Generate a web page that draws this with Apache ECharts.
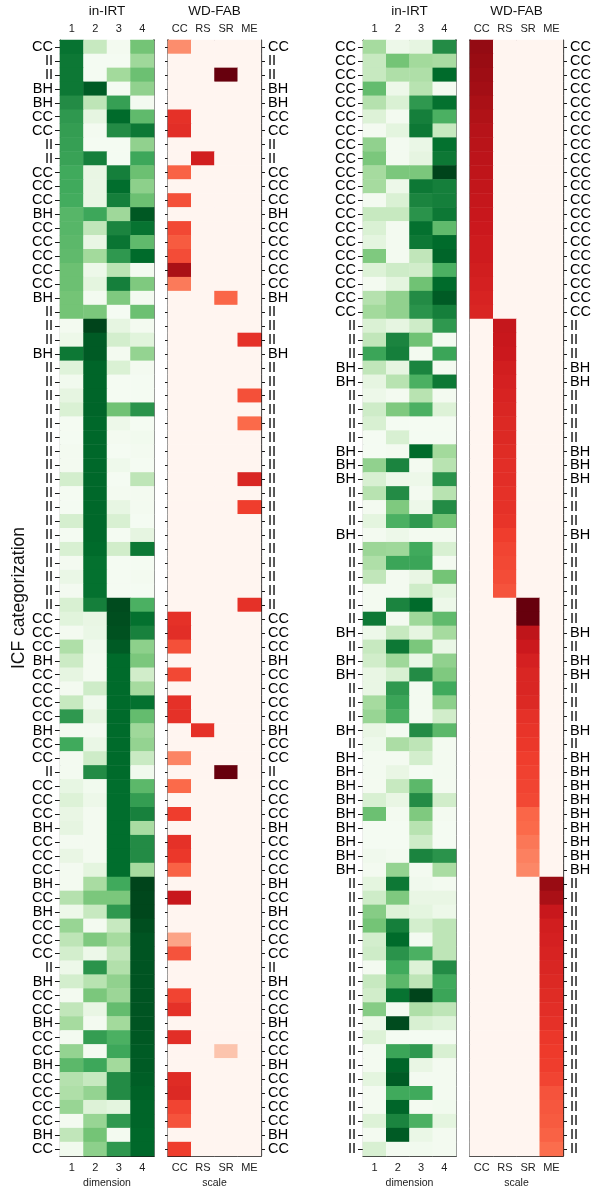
<!DOCTYPE html>
<html>
<head>
<meta charset="utf-8">
<script src="https://cdn.jsdelivr.net/npm/echarts@6/dist/echarts.min.js"></script>
<style>
html,body{margin:0;padding:0;background:#fff;}
#chart{width:597px;height:1188px;}
</style>
</head>
<body>
<div id="chart"></div>
<script>
// ---- categories / tick labels ----
const dims = ['1', '2', '3', '4'];
const scales = ['CC', 'RS', 'SR', 'ME'];

const leftLabels = ['CC','II','II','BH','BH','CC','CC','II','II','CC',
  'CC','CC','BH','CC','CC','CC','CC','CC','BH','II',
  'II','II','BH','II','II','II','II','II','II','II',
  'II','II','II','II','II','II','II','II','II','II',
  'II','CC','CC','CC','BH','CC','CC','CC','CC','BH',
  'CC','CC','II','CC','CC','CC','BH','CC','CC','CC',
  'BH','CC','BH','CC','CC','CC','II','BH','CC','CC',
  'BH','CC','CC','BH','CC','CC','CC','CC','BH','CC'];

const rightLabels = ['CC','CC','CC','CC','CC','CC','CC','CC','CC','CC',
  'CC','CC','CC','CC','CC','CC','CC','CC','CC','CC',
  'II','II','II','BH','BH','II','II','II','II','BH',
  'BH','BH','II','II','II','BH','II','II','II','II',
  'II','II','BH','II','BH','BH','II','II','II','BH',
  'II','BH','BH','BH','BH','BH','BH','BH','BH','BH',
  'II','II','II','II','II','II','II','II','II','II',
  'II','II','II','II','II','II','II','II','II','II'];

// ---- values: rows = respondents, columns = dimension 1..4 ----
const leftIRT = [
[0.85,0.25,0.03,0.50],[0.83,0.02,0.02,0.38],[0.83,0.02,0.37,0.52],[0.83,0.93,0.02,0.42],[0.75,0.28,0.67,0.03],
[0.70,0.12,0.88,0.55],[0.68,0.03,0.75,0.83],[0.67,0.02,0.02,0.42],[0.66,0.80,0.02,0.64],[0.63,0.10,0.80,0.52],
[0.63,0.10,0.87,0.43],[0.62,0.10,0.80,0.52],[0.57,0.64,0.38,0.94],[0.57,0.27,0.78,0.85],[0.56,0.10,0.84,0.55],
[0.55,0.37,0.70,0.88],[0.52,0.07,0.29,0.03],[0.52,0.13,0.80,0.47],[0.50,0.03,0.47,0.03],[0.50,0.48,0.02,0.52],
[0.03,1.00,0.12,0.03],[0.07,0.93,0.20,0.14],[0.83,0.93,0.03,0.41],[0.15,0.90,0.17,0.03],[0.04,0.90,0.02,0.02],
[0.12,0.90,0.02,0.02],[0.17,0.90,0.51,0.72],[0.02,0.89,0.07,0.02],[0.02,0.89,0.03,0.04],[0.03,0.89,0.02,0.03],
[0.03,0.89,0.06,0.02],[0.20,0.89,0.02,0.28],[0.02,0.89,0.03,0.03],[0.02,0.89,0.11,0.03],[0.19,0.89,0.18,0.02],
[0.02,0.89,0.02,0.12],[0.18,0.88,0.21,0.83],[0.03,0.86,0.02,0.02],[0.09,0.86,0.02,0.03],[0.03,0.86,0.02,0.02],
[0.18,0.80,0.98,0.60],[0.14,0.10,0.97,0.86],[0.03,0.09,0.96,0.79],[0.33,0.05,0.93,0.43],[0.23,0.03,0.88,0.48],
[0.12,0.03,0.88,0.21],[0.03,0.22,0.88,0.36],[0.25,0.05,0.88,0.86],[0.70,0.12,0.88,0.54],[0.03,0.03,0.88,0.38],
[0.63,0.09,0.88,0.41],[0.03,0.22,0.88,0.24],[0.03,0.75,0.88,0.05],[0.11,0.04,0.87,0.56],[0.16,0.07,0.87,0.68],
[0.10,0.03,0.87,0.79],[0.12,0.03,0.87,0.35],[0.03,0.03,0.87,0.75],[0.10,0.03,0.87,0.75],[0.03,0.13,0.87,0.36],
[0.03,0.35,0.63,1.00],[0.31,0.48,0.48,0.99],[0.07,0.25,0.70,0.99],[0.40,0.03,0.25,0.97],[0.28,0.47,0.36,0.95],
[0.20,0.07,0.27,0.95],[0.07,0.72,0.32,0.95],[0.20,0.30,0.42,0.95],[0.03,0.48,0.39,0.95],[0.27,0.10,0.54,0.95],
[0.36,0.03,0.37,0.95],[0.03,0.68,0.60,0.94],[0.41,0.03,0.64,0.93],[0.56,0.64,0.37,0.93],[0.31,0.25,0.75,0.92],
[0.33,0.41,0.75,0.91],[0.40,0.16,0.13,0.90],[0.03,0.40,0.70,0.90],[0.27,0.50,0.03,0.89],[0.04,0.43,0.70,0.89]
];

// columns = CC, RS, SR, ME
const leftFAB = [
[0.39,0,0,0],[0,0,0,0],[0,0,1.00,0],[0,0,0,0],[0,0,0,0],
[0.66,0,0,0],[0.67,0,0,0],[0,0,0,0],[0,0.73,0,0],[0.52,0,0,0],
[0,0,0,0],[0.57,0,0,0],[0,0,0,0],[0.59,0,0,0],[0.54,0,0,0],
[0.58,0,0,0],[0.86,0,0,0],[0.45,0,0,0],[0,0,0.51,0],[0,0,0,0],
[0,0,0,0],[0,0,0,0.66],[0,0,0,0],[0,0,0,0],[0,0,0,0],
[0,0,0,0.57],[0,0,0,0],[0,0,0,0.50],[0,0,0,0],[0,0,0,0],
[0,0,0,0],[0,0,0,0.70],[0,0,0,0],[0,0,0,0.62],[0,0,0,0],
[0,0,0,0],[0,0,0,0],[0,0,0,0],[0,0,0,0],[0,0,0,0],
[0,0,0,0.66],[0.66,0,0,0],[0.67,0,0,0],[0.57,0,0,0],[0,0,0,0],
[0.59,0,0,0],[0,0,0,0],[0.66,0,0,0],[0.66,0,0,0],[0,0.66,0,0],
[0,0,0,0],[0.42,0,0,0],[0,0,1.00,0],[0.50,0,0,0],[0,0,0,0],
[0.62,0,0,0],[0,0,0,0],[0.66,0,0,0],[0.64,0,0,0],[0.52,0,0,0],
[0,0,0,0],[0.76,0,0,0],[0,0,0,0],[0,0,0,0],[0.32,0,0,0],
[0.56,0,0,0],[0,0,0,0],[0,0,0,0],[0.60,0,0,0],[0.66,0,0,0],
[0,0,0,0],[0.67,0,0,0],[0,0,0.22,0],[0,0,0,0],[0.68,0,0,0],
[0.69,0,0,0],[0.60,0,0,0],[0.56,0,0,0],[0,0,0,0],[0.62,0,0,0]
];

const rightIRT = [
[0.36,0.07,0.12,0.75],[0.25,0.50,0.37,0.35],[0.25,0.33,0.33,0.88],[0.54,0.07,0.30,0.03],[0.31,0.17,0.70,0.86],
[0.16,0.03,0.80,0.60],[0.03,0.13,0.83,0.25],[0.42,0.03,0.09,0.86],[0.48,0.03,0.12,0.83],[0.36,0.48,0.48,1.00],
[0.36,0.07,0.83,0.80],[0.03,0.17,0.78,0.80],[0.25,0.25,0.72,0.83],[0.17,0.03,0.86,0.55],[0.13,0.03,0.83,0.88],
[0.47,0.03,0.27,0.90],[0.16,0.22,0.21,0.60],[0.03,0.13,0.51,0.88],[0.31,0.42,0.75,0.93],[0.37,0.42,0.72,0.80],
[0.17,0.12,0.22,0.70],[0.27,0.78,0.51,0.03],[0.65,0.80,0.03,0.65],[0.27,0.12,0.78,0.03],[0.12,0.30,0.60,0.83],
[0.07,0.03,0.30,0.03],[0.22,0.47,0.60,0.16],[0.18,0.02,0.02,0.02],[0.02,0.18,0.02,0.02],[0.02,0.03,0.88,0.37],
[0.42,0.78,0.03,0.30],[0.18,0.07,0.07,0.72],[0.30,0.75,0.03,0.30],[0.03,0.47,0.07,0.75],[0.13,0.60,0.70,0.50],
[0.03,0.07,0.03,0.03],[0.39,0.38,0.63,0.18],[0.33,0.65,0.65,0.03],[0.27,0.03,0.10,0.50],[0.03,0.03,0.22,0.13],
[0.03,0.78,0.88,0.07],[0.83,0.03,0.38,0.55],[0.07,0.25,0.12,0.36],[0.25,0.83,0.48,0.09],[0.21,0.38,0.09,0.42],
[0.10,0.18,0.75,0.47],[0.10,0.70,0.03,0.63],[0.36,0.65,0.03,0.43],[0.40,0.60,0.03,0.21],[0.10,0.03,0.75,0.56],
[0.06,0.34,0.28,0.03],[0.03,0.03,0.20,0.03],[0.03,0.10,0.02,0.03],[0.03,0.25,0.56,0.03],[0.18,0.10,0.75,0.21],
[0.52,0.03,0.47,0.03],[0.02,0.02,0.30,0.02],[0.02,0.02,0.22,0.02],[0.05,0.03,0.78,0.72],[0.03,0.41,0.03,0.35],
[0.13,0.83,0.05,0.03],[0.22,0.47,0.10,0.10],[0.45,0.16,0.13,0.07],[0.50,0.80,0.20,0.28],[0.20,0.88,0.03,0.28],
[0.22,0.72,0.60,0.28],[0.03,0.63,0.16,0.75],[0.25,0.56,0.28,0.63],[0.21,0.85,1.00,0.65],[0.45,0.03,0.33,0.28],
[0.07,0.98,0.18,0.15],[0.16,0.02,0.02,0.02],[0.03,0.65,0.70,0.18],[0.03,0.90,0.10,0.03],[0.13,0.93,0.03,0.03],
[0.03,0.63,0.63,0.03],[0.03,0.90,0.03,0.04],[0.16,0.78,0.60,0.13],[0.03,0.93,0.09,0.03],[0.18,0.03,0.04,0.03]
];

const rightFAB = [
[0.91,0,0,0],[0.90,0,0,0],[0.89,0,0,0],[0.88,0,0,0],[0.86,0,0,0],
[0.84,0,0,0],[0.82,0,0,0],[0.81,0,0,0],[0.80,0,0,0],[0.79,0,0,0],
[0.78,0,0,0],[0.77,0,0,0],[0.76,0,0,0],[0.75,0,0,0],[0.74,0,0,0],
[0.74,0,0,0],[0.73,0,0,0],[0.72,0,0,0],[0.71,0,0,0],[0.70,0,0,0],
[0,0.77,0,0],[0,0.76,0,0],[0,0.75,0,0],[0,0.73,0,0],[0,0.72,0,0],
[0,0.71,0,0],[0,0.70,0,0],[0,0.69,0,0],[0,0.69,0,0],[0,0.68,0,0],
[0,0.67,0,0],[0,0.67,0,0],[0,0.66,0,0],[0,0.66,0,0],[0,0.65,0,0],
[0,0.62,0,0],[0,0.60,0,0],[0,0.59,0,0],[0,0.58,0,0],[0,0.56,0,0],
[0,0,1.00,0],[0,0,1.00,0],[0,0,0.79,0],[0,0,0.75,0],[0,0,0.72,0],
[0,0,0.70,0],[0,0,0.70,0],[0,0,0.69,0],[0,0,0.66,0],[0,0,0.65,0],
[0,0,0.64,0],[0,0,0.62,0],[0,0,0.61,0],[0,0,0.60,0],[0,0,0.59,0],
[0,0,0.51,0],[0,0,0.50,0],[0,0,0.46,0],[0,0,0.43,0],[0,0,0.41,0],
[0,0,0,0.90],[0,0,0,0.86],[0,0,0,0.76],[0,0,0,0.73],[0,0,0,0.72],
[0,0,0,0.71],[0,0,0,0.70],[0,0,0,0.69],[0,0,0,0.68],[0,0,0,0.67],
[0,0,0,0.66],[0,0,0,0.64],[0,0,0,0.63],[0,0,0,0.62],[0,0,0,0.60],
[0,0,0,0.56],[0,0,0,0.55],[0,0,0,0.54],[0,0,0,0.52],[0,0,0,0.49]
];

// ---- colormaps (ColorBrewer Greens / Reds) ----
const greens = ['#f7fcf5','#e5f5e0','#c7e9c0','#a1d99b','#74c476','#41ab5d','#238b45','#006d2c','#00441b'];
const reds = ['#fff5f0','#fee0d2','#fcbba1','#fc9272','#fb6a4a','#ef3b2c','#cb181d','#a50f15','#67000d'];

function toCells(rows) {
  const out = [];
  rows.forEach((r, y) => r.forEach((v, x) => out.push([x, y, v])));
  return out;
}

const FONT = 'Liberation Sans, Arial, sans-serif';
const rowIdx = leftLabels.map((_, i) => String(i));
const TOP = 40, HEIGHT = 1116;
const panels = [
  {left: 60, width: 94, cols: dims, top: 'in-IRT', bottom: 'dimension', labels: leftLabels, kind: 'g', data: leftIRT, group: 'L'},
  {left: 168, width: 93, cols: scales, top: 'WD-FAB', bottom: 'scale', labels: leftLabels, kind: 'r', data: leftFAB, group: 'L'},
  {left: 363, width: 93, cols: dims, top: 'in-IRT', bottom: 'dimension', labels: rightLabels, kind: 'g', data: rightIRT, group: 'R'},
  {left: 470, width: 93, cols: scales, top: 'WD-FAB', bottom: 'scale', labels: rightLabels, kind: 'r', data: rightFAB, group: 'R'}
];

const black = '#1a1a1a', grey = '#7f7f7f';
const grid = [], xAxis = [], yAxis = [], series = [];
panels.forEach((p, g) => {
  grid.push({left: p.left, width: p.width, top: TOP, height: HEIGHT, containLabel: false, outerBoundsMode: 'none'});
  const xBase = {
    type: 'category', data: p.cols, gridIndex: g,
    axisLine: {show: true, lineStyle: {color: black, width: 1.2}},
    axisTick: {show: false},
    axisLabel: {fontSize: 11, color: '#222', fontFamily: FONT, margin: 6},
    splitLine: {show: false},
    nameLocation: 'middle'
  };
  xAxis.push(Object.assign({}, xBase, {position: 'bottom', name: p.bottom, nameGap: 21,
    nameTextStyle: {fontSize: 10.5, color: '#222', fontFamily: FONT}}));
  xAxis.push(Object.assign({}, xBase, {position: 'top', name: p.top, nameGap: 21,
    nameTextStyle: {fontSize: 13.5, color: '#111', fontFamily: FONT}}));

  const fmt = (v, i) => p.labels[Number(v)];
  const labelStyle = {fontSize: 14.5, color: '#000', fontFamily: FONT, interval: 0, formatter: fmt};
  const yBase = {type: 'category', data: rowIdx, gridIndex: g, inverse: true, splitLine: {show: false}};
  if (p.kind === 'g') {
    const leftAxis = Object.assign({}, yBase, {position: 'left',
      axisLine: {show: true, lineStyle: {color: black, width: 1.2}},
      axisTick: {show: true, length: 5, alignWithLabel: true, interval: 0, lineStyle: {color: black}},
      axisLabel: Object.assign({}, labelStyle, {margin: 7})});
    if (g === 0) {
      Object.assign(leftAxis, {name: 'ICF categorization', nameLocation: 'middle', nameGap: 26, nameRotate: 90,
        nameTextStyle: {fontSize: 17.5, color: '#111', fontFamily: FONT}});
    }
    yAxis.push(leftAxis);
    yAxis.push(Object.assign({}, yBase, {position: 'right',
      axisLine: {show: true, lineStyle: {color: grey, width: 2}},
      axisTick: {show: false}, axisLabel: {show: false}}));
  } else {
    yAxis.push(Object.assign({}, yBase, {position: 'left',
      axisLine: {show: true, lineStyle: {color: grey, width: 2}},
      axisTick: {show: p.group === 'L', length: 3, alignWithLabel: true, interval: 0, lineStyle: {color: black}},
      axisLabel: {show: false}}));
    yAxis.push(Object.assign({}, yBase, {position: 'right',
      axisLine: {show: true, lineStyle: {color: black, width: 1.2}},
      axisTick: {show: true, length: 4, alignWithLabel: true, interval: 0, lineStyle: {color: black}},
      axisLabel: Object.assign({}, labelStyle, {margin: 7})}));
  }
  series.push({
    type: 'heatmap', xAxisIndex: 2 * g, yAxisIndex: 2 * g,
    data: toCells(p.data), progressive: 0, animation: false,
    itemStyle: {borderWidth: 0},
    emphasis: {disabled: true}
  });
});

const chart = echarts.init(document.getElementById('chart'), null, {renderer: 'canvas'});
chart.setOption({
  animation: false,
  backgroundColor: '#ffffff',
  grid, xAxis, yAxis, series,
  visualMap: [
    {type: 'continuous', min: 0, max: 1, seriesIndex: [0, 2], show: false, inRange: {color: greens}},
    {type: 'continuous', min: 0, max: 1, seriesIndex: [1, 3], show: false, inRange: {color: reds}}
  ]
});
</script>
</body>
</html>
